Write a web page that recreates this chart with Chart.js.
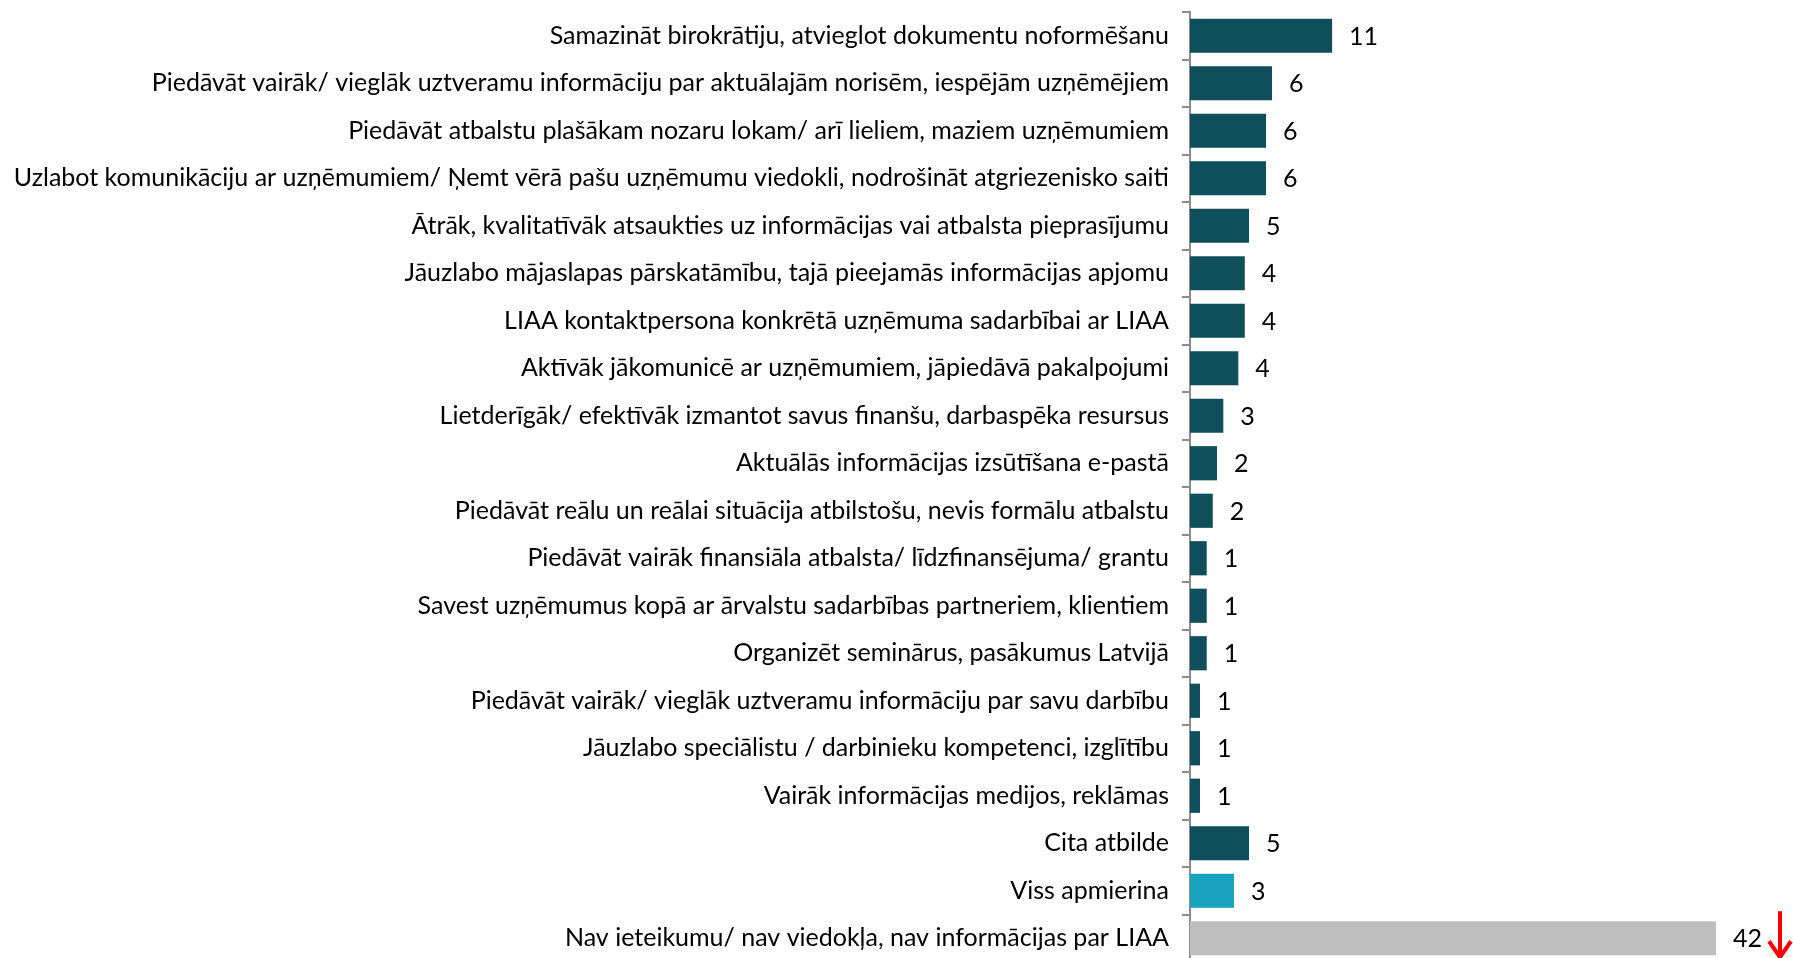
<!DOCTYPE html>
<html lang="lv">
<head>
<meta charset="utf-8">
<title>Ieteikumi LIAA</title>
<script src="https://cdn.jsdelivr.net/npm/chart.js@4.4.1/dist/chart.umd.min.js"></script>
<style>
    html, body { margin: 0; padding: 0; background: #fff; overflow: hidden; }
    canvas { display: block; }
</style>
</head>
<body>
<canvas id="suggestionsChart" width="1793" height="962"></canvas>
<script>
// Data
const categories = [
    'Samazināt birokrātiju, atvieglot dokumentu noformēšanu',
    'Piedāvāt vairāk/ vieglāk uztveramu informāciju par aktuālajām norisēm, iespējām uzņēmējiem',
    'Piedāvāt atbalstu plašākam nozaru lokam/ arī lieliem, maziem uzņēmumiem',
    'Uzlabot komunikāciju ar uzņēmumiem/ Ņemt vērā pašu uzņēmumu viedokli, nodrošināt atgriezenisko saiti',
    'Ātrāk, kvalitatīvāk atsaukties uz informācijas vai atbalsta pieprasījumu',
    'Jāuzlabo mājaslapas pārskatāmību, tajā pieejamās informācijas apjomu',
    'LIAA kontaktpersona konkrētā uzņēmuma sadarbībai ar LIAA',
    'Aktīvāk jākomunicē ar uzņēmumiem, jāpiedāvā pakalpojumi',
    'Lietderīgāk/ efektīvāk izmantot savus finanšu, darbaspēka resursus',
    'Aktuālās informācijas izsūtīšana e-pastā',
    'Piedāvāt reālu un reālai situācija atbilstošu, nevis formālu atbalstu',
    'Piedāvāt vairāk finansiāla atbalsta/ līdzfinansējuma/ grantu',
    'Savest uzņēmumus kopā ar ārvalstu sadarbības partneriem, klientiem',
    'Organizēt seminārus, pasākumus Latvijā',
    'Piedāvāt vairāk/ vieglāk uztveramu informāciju par savu darbību',
    'Jāuzlabo speciālistu / darbinieku kompetenci, izglītību',
    'Vairāk informācijas medijos, reklāmas',
    'Cita atbilde',
    'Viss apmierina',
    'Nav ieteikumu/ nav viedokļa, nav informācijas par LIAA'
];

// bar lengths (printed labels are rounded)
const values = [11.05, 6.38, 5.91, 5.91, 4.59, 4.26, 4.26, 3.76, 2.59, 2.10, 1.77, 1.30, 1.30, 1.30, 0.78, 0.78, 0.78, 4.59, 3.42, 42];
const valueLabels = [11, 6, 6, 6, 5, 4, 4, 4, 3, 2, 2, 1, 1, 1, 1, 1, 1, 5, 3, 42];
const groups = ['idea', 'idea', 'idea', 'idea', 'idea', 'idea', 'idea', 'idea', 'idea', 'idea', 'idea', 'idea', 'idea', 'idea', 'idea', 'idea', 'idea', 'idea', 'ok', 'none'];
const downArrows = [20];   // category number with the red arrow

const groupColors = { idea: '#0E4F5B', ok: '#17A2BD', none: '#BFBFBF' };
const FONT = 'Lato, "Open Sans", sans-serif';

// value labels at the bar ends + red arrow
const valueLabelPlugin = {
    id: 'valueLabels',
    afterDatasetsDraw(chart) {
        const ctx = chart.ctx;
        const area = chart.chartArea;
        const meta = chart.getDatasetMeta(0);
        ctx.save();
        ctx.font = '25px ' + FONT;
        ctx.fillStyle = '#000';
        ctx.textAlign = 'left';
        ctx.textBaseline = 'middle';
        meta.data.forEach((bar, i) => {
            const x = Math.min(bar.x, area.right) + 17;
            const text = String(valueLabels[i]);
            ctx.fillText(text, x, bar.y + 1);

            if (downArrows.includes(i + 1)) {
                const ax = x + ctx.measureText(text).width + 18;
                const top = bar.y - 27;
                const bottom = bar.y + 19;
                ctx.strokeStyle = '#FF0000';
                ctx.lineWidth = 4;
                ctx.beginPath();
                ctx.moveTo(ax, top);
                ctx.lineTo(ax, bottom - 2);
                ctx.stroke();
                ctx.beginPath();
                ctx.moveTo(ax - 11, bottom - 16);
                ctx.lineTo(ax, bottom);
                ctx.lineTo(ax + 11, bottom - 16);
                ctx.stroke();
            }
        });
        ctx.restore();
    }
};

const chartCtx = document.getElementById('suggestionsChart').getContext('2d');
new Chart(chartCtx, {
    type: 'bar',
    data: {
        labels: categories,
        datasets: [{
            data: values,
            backgroundColor: groups.map(g => groupColors[g]),
            borderWidth: 0,
            barPercentage: 0.72,
            categoryPercentage: 1
        }]
    },
    options: {
        indexAxis: 'y',
        responsive: false,
        devicePixelRatio: 1,
        animation: false,
        layout: {
            padding: { top: 12, right: 77, bottom: 0, left: 0 }
        },
        plugins: {
            legend: { display: false },
            tooltip: { enabled: false }
        },
        scales: {
            x: {
                display: false,
                min: 0,
                max: 40.9
            },
            y: {
                afterFit(scale) {
                    scale.width = 1190;
                    scale.paddingTop = 0;
                    scale.paddingBottom = 0;
                },
                border: {
                    display: true,
                    color: '#8C8C8C',
                    width: 2
                },
                grid: {
                    display: true,
                    drawOnChartArea: false,
                    drawTicks: true,
                    tickLength: 8,
                    color: '#8C8C8C',
                    lineWidth: 2,
                    offset: true
                },
                ticks: {
                    color: '#000',
                    padding: 13,
                    autoSkip: false,
                    font: { family: FONT, size: 25 }
                }
            }
        }
    },
    plugins: [valueLabelPlugin]
});
</script>
</body>
</html>
